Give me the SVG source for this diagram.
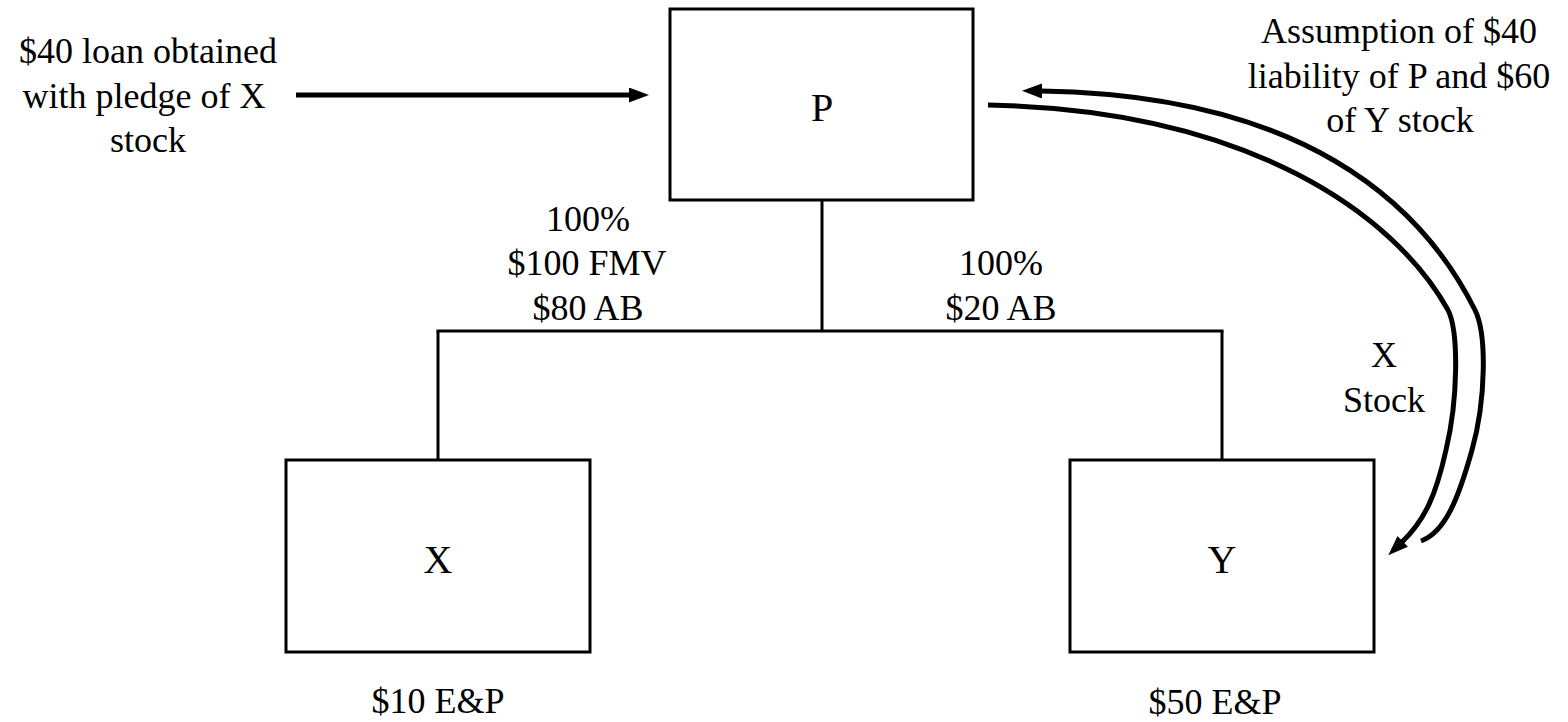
<svg xmlns="http://www.w3.org/2000/svg" width="1568" height="722" viewBox="0 0 1568 722" font-family="'DejaVu Serif', 'Liberation Serif', serif">
  <style>
    text { fill: #000; text-anchor: middle; }
    .lbl { font-size: 36px; font-family: 'Liberation Serif', 'DejaVu Serif', serif; }
    .name { font-size: 40px; font-family: 'Liberation Serif', 'DejaVu Serif', serif; }
    .box { fill: #fff; stroke: #000; stroke-width: 3; }
    .tree { stroke: #000; stroke-width: 3; fill: none; }
    .flow { stroke: #000; stroke-width: 5; fill: none; }
  </style>
  <defs>
    <marker id="head" markerUnits="userSpaceOnUse" markerWidth="22" markerHeight="16" refX="1" refY="7.5" orient="auto">
      <path d="M0,0 L20,7.5 L0,15 Z" fill="#000"/>
    </marker>
  </defs>

  <rect width="1568" height="722" fill="#fff"/>

  <!-- ownership tree and transfers -->
  <g id="connectors">
    <line class="tree" x1="822" y1="200" x2="822" y2="331"/>
    <line class="tree" x1="436.5" y1="331" x2="1223.5" y2="331"/>
    <line class="tree" x1="438" y1="331" x2="438" y2="460"/>
    <line class="tree" x1="1222" y1="331" x2="1222" y2="460"/>
    <!-- loan proceeds into P -->
    <line class="flow" x1="296" y1="95" x2="630" y2="95" stroke-width="4" marker-end="url(#head)"/>
    <!-- X stock from P down to Y -->
    <path class="flow" d="M988,105 C1250,110 1395,215 1448,310 C1459,332 1458,400 1446,450 C1436,495 1425,520 1402,542" marker-end="url(#head)"/>
    <!-- liability assumption and Y stock from Y back to P -->
    <path class="flow" d="M1421,541 C1445,532 1458,500 1472,450 C1486,400 1487,334 1475,310 C1420,200 1300,95 1041,91" marker-end="url(#head)"/>
  </g>

  <g id="node-P">
    <rect class="box" x="670" y="9" width="303" height="191"/>
    <text class="name" x="822" y="121">P</text>
  </g>

  <g id="node-X">
    <rect class="box" x="286" y="460" width="304" height="192"/>
    <text class="name" x="438" y="573">X</text>
    <text class="lbl" x="438" y="713">$10 E&amp;P</text>
  </g>

  <g id="node-Y">
    <rect class="box" x="1070" y="460" width="304" height="192"/>
    <text class="name" x="1222" y="573">Y</text>
    <text class="lbl" x="1215" y="714">$50 E&amp;P</text>
  </g>

  <g id="labels">
    <text class="lbl" x="148" y="63">$40 loan obtained</text>
    <text class="lbl" x="144" y="108">with pledge of X</text>
    <text class="lbl" x="148" y="152">stock</text>

    <text class="lbl" x="1399" y="43">Assumption of $40</text>
    <text class="lbl" x="1399" y="88">liability of P and $60</text>
    <text class="lbl" x="1400" y="132">of Y stock</text>

    <text class="lbl" x="588" y="231">100%</text>
    <text class="lbl" x="587" y="275">$100 FMV</text>
    <text class="lbl" x="588" y="320">$80 AB</text>

    <text class="lbl" x="1001" y="275">100%</text>
    <text class="lbl" x="1001" y="320">$20 AB</text>

    <text class="lbl" x="1384" y="367">X</text>
    <text class="lbl" x="1384" y="412">Stock</text>
  </g>
</svg>
